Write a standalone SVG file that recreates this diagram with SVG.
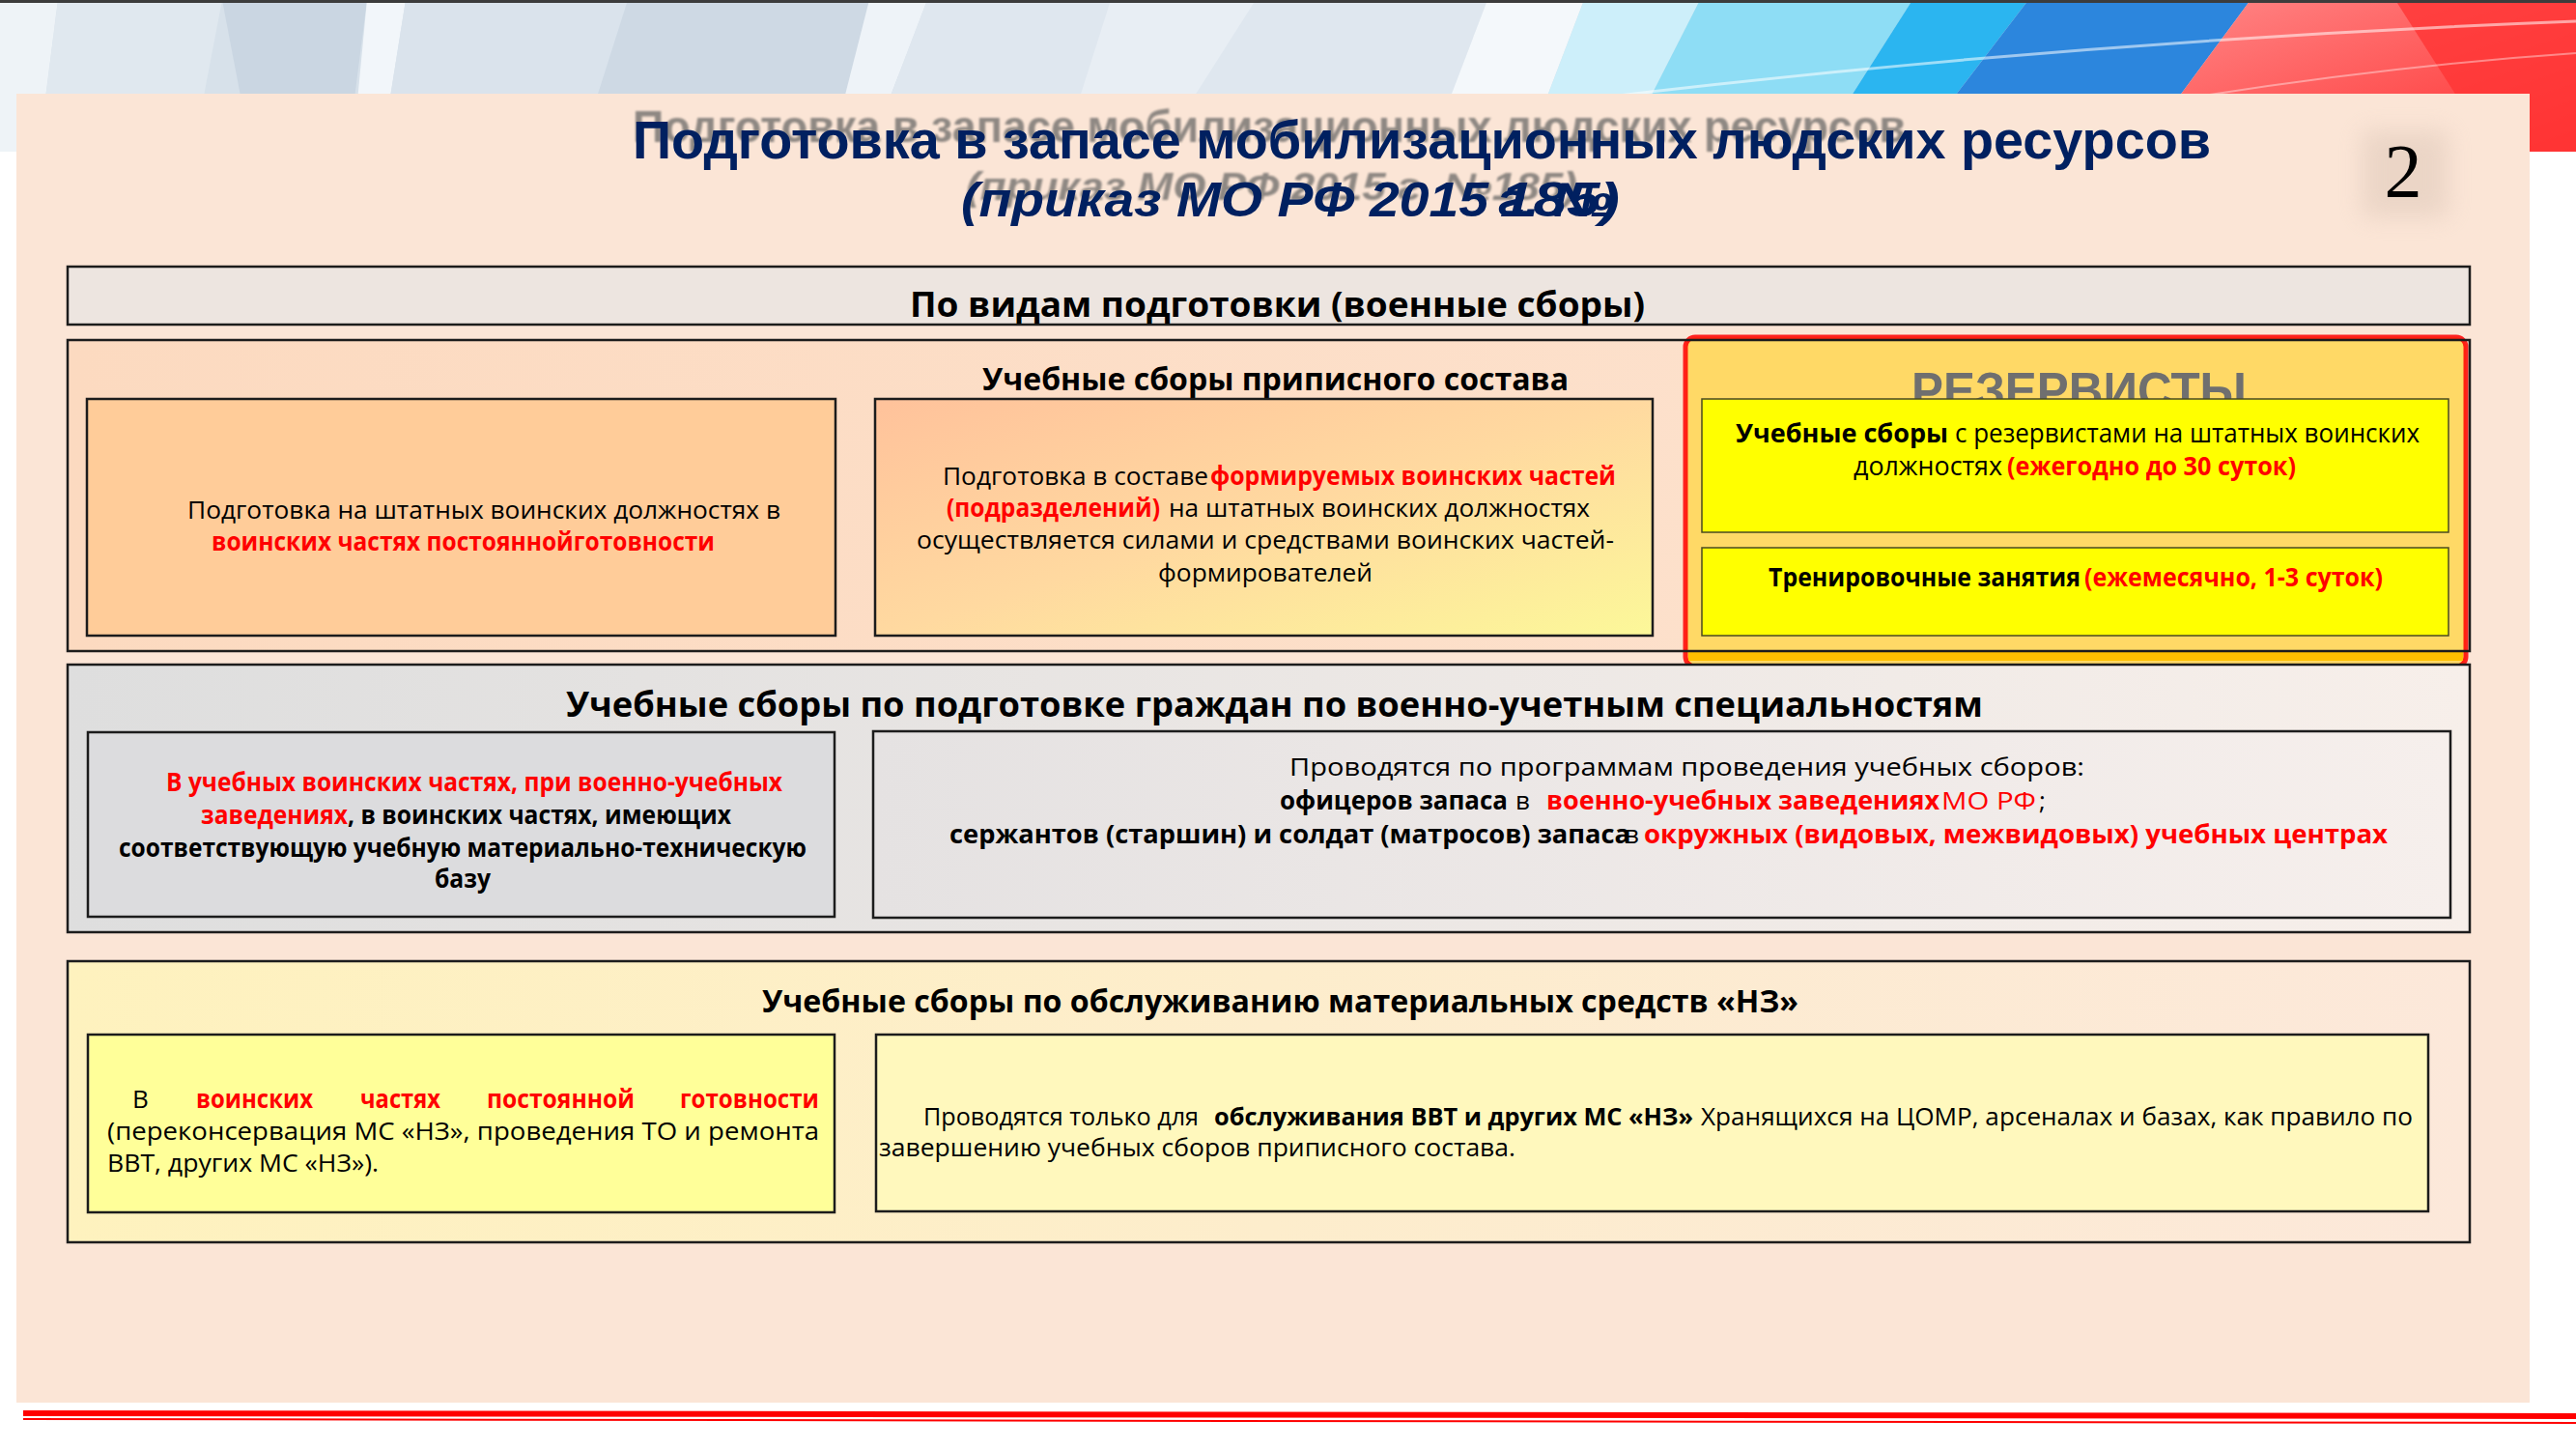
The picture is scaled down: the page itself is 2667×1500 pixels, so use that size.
<svg xmlns="http://www.w3.org/2000/svg" width="2667" height="1500" viewBox="0 0 2667 1500">
<defs>
<style>
.f{font-family:"Open Sans","Noto Sans","DejaVu Sans",sans-serif;fill:#000}
.b{font-weight:bold}
.r{fill:#FF0000}
.box{stroke:#1c1c1c;stroke-width:2.5}
.ttl{font-family:"Liberation Sans",Arial,sans-serif;font-weight:bold;fill:#002060}
.ghost{font-family:"Liberation Sans",Arial,sans-serif;font-weight:bold;fill:#7c7874}
</style>
<linearGradient id="gBox2" x1="0" y1="0" x2="1" y2="0"><stop offset="0" stop-color="#FCDAC0"/><stop offset="1" stop-color="#FDE3D0"/></linearGradient>
<linearGradient id="gMid" x1="0" y1="0" x2="1" y2="1"><stop offset="0" stop-color="#FFC29B"/><stop offset="0.5" stop-color="#FFD9A0"/><stop offset="1" stop-color="#FCF899"/></linearGradient>
<linearGradient id="gBox3" x1="0" y1="0" x2="1" y2="0"><stop offset="0" stop-color="#DEDEDE"/><stop offset="1" stop-color="#F7EFEA"/></linearGradient>
<linearGradient id="gRight3" x1="0" y1="0" x2="1" y2="0"><stop offset="0" stop-color="#E5E2E2"/><stop offset="1" stop-color="#F6EFEC"/></linearGradient>
<linearGradient id="gBox4" x1="0" y1="0" x2="1" y2="0"><stop offset="0" stop-color="#FEF2BE"/><stop offset="1" stop-color="#FCE8DA"/></linearGradient>
<linearGradient id="gRed" x1="0" y1="0" x2="1" y2="1"><stop offset="0" stop-color="#FF8A8A"/><stop offset="1" stop-color="#FF3030"/></linearGradient>
<filter id="blur1" x="-5%" y="-20%" width="110%" height="140%"><feGaussianBlur stdDeviation="1.3"/></filter>
<filter id="blur10" x="-50%" y="-50%" width="200%" height="200%"><feGaussianBlur stdDeviation="12"/></filter>
</defs>

<rect width="2667" height="1500" fill="#FFFFFF"/>

<g id="banner">
<rect x="0" y="0" width="2667" height="157" fill="#D7E1EA"/>
<polygon points="0,0 60,0 40,157 0,157" fill="#EEF3F7"/>
<polygon points="60,0 230,0 200,157 40,157" fill="#E0E8EF"/>
<polygon points="230,0 380,0 360,157 260,157" fill="#CAD6E2"/>
<polygon points="380,0 420,0 395,157 365,157" fill="#F2F6FA"/>
<polygon points="420,0 650,0 600,157 395,157" fill="#DAE3EC"/>
<polygon points="650,0 900,0 960,157 600,157" fill="#CED9E4"/>
<polygon points="900,0 960,0 900,157 860,157" fill="#EEF3F8"/>
<polygon points="960,0 1540,0 1480,157 900,157" fill="#DFE7EF"/>
<polygon points="1150,0 1300,0 1200,157 1100,157" fill="#E8EEF4"/>
<polygon points="1540,0 1640,0 1580,157 1480,157" fill="#F4F8FB"/>
<polygon points="1640,0 1760,0 1680,157 1580,157" fill="#CDEFFA"/>
<polygon points="1760,0 1980,0 1880,157 1680,157" fill="#8EDDF5"/>
<polygon points="1980,0 2100,0 1980,157 1880,157" fill="#2BB5F0"/>
<polygon points="2100,0 2330,0 2214,157 1980,157" fill="#2C86DD"/>
<polygon points="2330,0 2667,0 2667,157 2214,157" fill="url(#gRed)"/>
<polygon points="2480,0 2667,0 2667,157 2580,157" fill="#FF3434" opacity="0.8"/>
<path d="M1300,150 Q1950,50 2667,22" fill="none" stroke="#FFFFFF" stroke-width="3" opacity="0.55"/>
<path d="M2214,110 Q2450,70 2667,55" fill="none" stroke="#FFFFFF" stroke-width="2" opacity="0.4"/>
<rect x="0" y="0" width="2667" height="3" fill="#3C3C3C"/>
</g>

<g id="panel">
<rect x="17" y="97" width="2602" height="1355" fill="#FBE5D6"/>
<polygon points="24,1460 2667,1463 2667,1469 24,1466" fill="#FF0000"/>
<polygon points="24,1468 2667,1472 2667,1474 24,1470" fill="#FF0000"/>
</g>

<g id="title">
<text class="ghost" x="655" y="147" font-size="46" textLength="1318" lengthAdjust="spacingAndGlyphs" filter="url(#blur1)" opacity="0.85">Подготовка в запасе мобилизационных людских ресурсов</text>
<text class="ghost" x="1000" y="207" font-size="40" font-style="italic" textLength="633" lengthAdjust="spacingAndGlyphs" filter="url(#blur1)" opacity="0.85">(приказ МО РФ 2015 г. №185)</text>
<text class="ttl" x="655" y="164" font-size="56" textLength="1634" lengthAdjust="spacingAndGlyphs">Подготовка в запасе мобилизационных людских ресурсов</text>
<text class="ttl" x="995" y="224" font-size="50" font-style="italic" textLength="546" lengthAdjust="spacingAndGlyphs">(приказ МО РФ 2015</text>
<text class="ttl" x="1551" y="224" font-size="50" font-style="italic" textLength="118" lengthAdjust="spacingAndGlyphs">г. №</text>
<text class="ttl" x="1553" y="224" font-size="50" font-style="italic" textLength="124" lengthAdjust="spacingAndGlyphs">185)</text>
</g>

<g id="slide-number">
<rect x="2445" y="135" width="90" height="90" fill="#D8C2B4" opacity="0.45" filter="url(#blur10)"/>
<text x="2488" y="203" font-family="'Liberation Serif','Times New Roman',serif" font-size="78" text-anchor="middle" fill="#000">2</text>
</g>

<g id="connectors"></g>

<g id="node-vidy">
<rect class="box" x="70" y="276" width="2487" height="60" fill="#EDE5E0"/>
<text class="f b" x="942" y="328" font-size="36" textLength="761" lengthAdjust="spacingAndGlyphs">По видам подготовки (военные сборы)</text>
</g>

<g id="node-pripisnoy">
<rect x="70" y="352" width="2487" height="322" fill="url(#gBox2)"/>
<text class="f b" x="1017" y="404" font-size="32" textLength="607" lengthAdjust="spacingAndGlyphs">Учебные сборы приписного состава</text>
</g>

<g id="node-postoyannoy">
<rect class="box" x="90" y="413" width="775" height="245" fill="#FFCC99"/>
<text class="f" x="194" y="537" font-size="26" textLength="614" lengthAdjust="spacingAndGlyphs">Подготовка на штатных воинских должностях в</text>
<text class="f b r" x="219" y="570" font-size="26" textLength="521" lengthAdjust="spacingAndGlyphs">воинских частях постояннойготовности</text>
</g>

<g id="node-formiruemye">
<rect class="box" x="906" y="413" width="805" height="245" fill="url(#gMid)"/>
<text class="f" x="976" y="502" font-size="26" textLength="275" lengthAdjust="spacingAndGlyphs">Подготовка в составе</text>
<text class="f b r" x="1253" y="502" font-size="26" textLength="420" lengthAdjust="spacingAndGlyphs">формируемых воинских частей</text>
<text class="f b r" x="980" y="535" font-size="26" textLength="221" lengthAdjust="spacingAndGlyphs">(подразделений)</text>
<text class="f" x="1210" y="535" font-size="26" textLength="436" lengthAdjust="spacingAndGlyphs">на штатных воинских должностях</text>
<text class="f" x="949" y="568" font-size="26" textLength="722" lengthAdjust="spacingAndGlyphs">осуществляется силами и средствами воинских частей-</text>
<text class="f" x="1199" y="602" font-size="26" textLength="222" lengthAdjust="spacingAndGlyphs">формирователей</text>
</g>

<g id="node-reservisty">
<rect x="1745" y="349" width="808" height="341" rx="10" fill="#FFD966" stroke="#FF0000" stroke-width="5" stroke-opacity="0.85"/>
<rect x="1748" y="673" width="802" height="11" fill="#FFC000"/>
<text x="1979" y="422" font-family="'Liberation Sans',Arial,sans-serif" font-weight="bold" font-size="52" fill="#6F6F6F" textLength="347" lengthAdjust="spacingAndGlyphs">РЕЗЕРВИСТЫ</text>
</g>

<g id="node-pripisnoy-border">
<rect class="box" x="70" y="352" width="2487" height="322" fill="none"/>
</g>

<g id="node-uchebnye-sbory-rezervistov">
<rect x="1762" y="413" width="773" height="138" fill="#FFFF00" stroke="#4a4a20" stroke-width="1.5"/>
<text class="f b" x="1797" y="458" font-size="27" textLength="220" lengthAdjust="spacingAndGlyphs">Учебные сборы</text>
<text class="f" x="2024" y="458" font-size="27" textLength="481" lengthAdjust="spacingAndGlyphs">с резервистами на штатных воинских</text>
<text class="f" x="1919" y="492" font-size="27" textLength="154" lengthAdjust="spacingAndGlyphs">должностях</text>
<text class="f b r" x="2078" y="492" font-size="27" textLength="299" lengthAdjust="spacingAndGlyphs">(ежегодно до 30 суток)</text>
</g>

<g id="node-trenirovochnye">
<rect x="1762" y="567" width="773" height="91" fill="#FFFF00" stroke="#4a4a20" stroke-width="1.5"/>
<text class="f b" x="1831" y="607" font-size="27" textLength="323" lengthAdjust="spacingAndGlyphs">Тренировочные занятия</text>
<text class="f b r" x="2158" y="607" font-size="27" textLength="309" lengthAdjust="spacingAndGlyphs">(ежемесячно, 1-3 суток)</text>
</g>

<g id="node-vus">
<rect class="box" x="70" y="688" width="2487" height="277" fill="url(#gBox3)"/>
<text class="f b" x="586" y="742" font-size="36" textLength="1467" lengthAdjust="spacingAndGlyphs">Учебные сборы по подготовке граждан по военно-учетным специальностям</text>
</g>

<g id="node-vus-mesta">
<rect class="box" x="91" y="758" width="773" height="191" fill="#DCDCDE"/>
<text class="f b r" x="172" y="819" font-size="26" textLength="638" lengthAdjust="spacingAndGlyphs">В учебных воинских частях, при военно-учебных</text>
<text class="f b r" x="208" y="853" font-size="26" textLength="152" lengthAdjust="spacingAndGlyphs">заведениях</text>
<text class="f b" x="360" y="853" font-size="26" textLength="397" lengthAdjust="spacingAndGlyphs">, в воинских частях, имеющих</text>
<text class="f b" x="123" y="887" font-size="26" textLength="712" lengthAdjust="spacingAndGlyphs">соответствующую учебную материально-техническую</text>
<text class="f b" x="450" y="919" font-size="26" textLength="58" lengthAdjust="spacingAndGlyphs">базу</text>
</g>

<g id="node-vus-programmy">
<rect class="box" x="904" y="757" width="1633" height="193" fill="url(#gRight3)"/>
<text class="f" x="1335" y="803" font-size="26" textLength="823" lengthAdjust="spacingAndGlyphs">Проводятся по программам проведения учебных сборов:</text>
<text class="f b" x="1325" y="838" font-size="26" textLength="236" lengthAdjust="spacingAndGlyphs">офицеров запаса</text>
<text class="f" x="1569" y="838" font-size="26">в</text>
<text class="f b r" x="1601" y="838" font-size="26" textLength="407" lengthAdjust="spacingAndGlyphs">военно-учебных заведениях</text>
<text class="f r" x="2010" y="838" font-size="26" textLength="98" lengthAdjust="spacingAndGlyphs">МО РФ</text>
<text class="f" x="2111" y="838" font-size="26">;</text>
<text class="f b" x="983" y="873" font-size="26" textLength="705" lengthAdjust="spacingAndGlyphs">сержантов (старшин) и солдат (матросов) запаса</text>
<text class="f" x="1682" y="873" font-size="26">в</text>
<text class="f b r" x="1702" y="873" font-size="26" textLength="770" lengthAdjust="spacingAndGlyphs">окружных (видовых, межвидовых) учебных центрах</text>
</g>

<g id="node-nz">
<rect class="box" x="70" y="995" width="2487" height="291" fill="url(#gBox4)"/>
<text class="f b" x="789" y="1048" font-size="32" textLength="1073" lengthAdjust="spacingAndGlyphs">Учебные сборы по обслуживанию материальных средств «НЗ»</text>
</g>

<g id="node-nz-chasti">
<rect class="box" x="91" y="1071" width="773" height="184" fill="#FFFF99"/>
<text class="f" x="137" y="1147" font-size="26">В</text>
<text class="f b r" x="203" y="1147" font-size="26" textLength="121" lengthAdjust="spacingAndGlyphs">воинских</text>
<text class="f b r" x="373" y="1147" font-size="26" textLength="83" lengthAdjust="spacingAndGlyphs">частях</text>
<text class="f b r" x="504" y="1147" font-size="26" textLength="153" lengthAdjust="spacingAndGlyphs">постоянной</text>
<text class="f b r" x="704" y="1147" font-size="26" textLength="144" lengthAdjust="spacingAndGlyphs">готовности</text>
<text class="f" x="111" y="1180" font-size="26" textLength="737" lengthAdjust="spacingAndGlyphs">(переконсервация МС «НЗ», проведения ТО и ремонта</text>
<text class="f" x="111" y="1213" font-size="26" textLength="281" lengthAdjust="spacingAndGlyphs">ВВТ, других МС «НЗ»).</text>
</g>

<g id="node-nz-obsluzhivanie">
<rect class="box" x="907" y="1071" width="1607" height="183" fill="#FFF8BD"/>
<text class="f" x="956" y="1165" font-size="25" textLength="285" lengthAdjust="spacingAndGlyphs">Проводятся только для</text>
<text class="f b" x="1257" y="1165" font-size="25" textLength="496" lengthAdjust="spacingAndGlyphs">обслуживания ВВТ и других МС «НЗ»</text>
<text class="f" x="1761" y="1165" font-size="25" textLength="737" lengthAdjust="spacingAndGlyphs">Хранящихся на ЦОМР, арсеналах и базах, как правило по</text>
<text class="f" x="910" y="1197" font-size="25" textLength="659" lengthAdjust="spacingAndGlyphs">завершению учебных сборов приписного состава.</text>
</g>
</svg>
